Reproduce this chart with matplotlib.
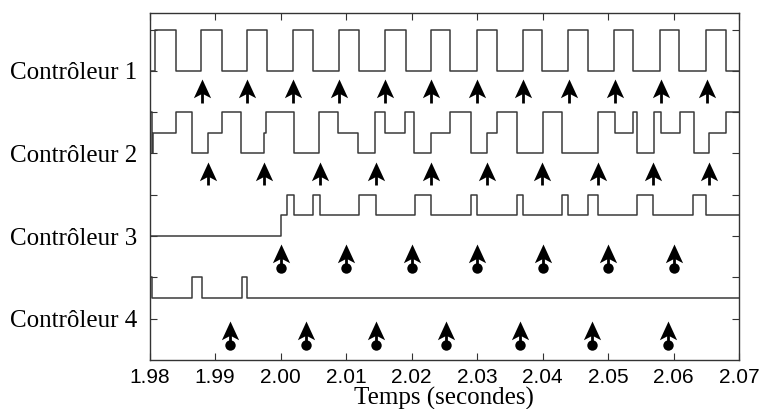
import numpy as np
import matplotlib
matplotlib.use('Agg')
from matplotlib import pyplot as plt
from matplotlib.path import Path

# signaux des contrôleurs : instants de changement (s) et niveau après changement
c1_t = [1.98, 1.98084, 1.98400, 1.98786, 1.99102, 1.99494, 1.99789, 2.00196, 2.00501,
        2.00893, 2.01198, 2.01595, 2.01911, 2.02298, 2.02588, 2.02995, 2.03301, 2.03698,
        2.03997, 2.04394, 2.04699, 2.05096, 2.05386, 2.05794, 2.06088, 2.06492, 2.06797, 2.07]
c1_y = [7, 8, 7, 8, 7, 8, 7, 8, 7, 8, 7, 8, 7, 8, 7, 8, 7, 8, 7, 8, 7, 8, 7, 8, 7, 8, 7, 7]

c2_t = [1.98, 1.9803, 1.9806, 1.98400, 1.98644, 1.98898, 1.99112, 1.99397, 1.99748, 1.99774,
        2.00211, 2.00592, 2.00882, 2.01188, 2.01443, 2.01595, 2.01901, 2.02043, 2.02293,
        2.02588, 2.02904, 2.03148, 2.03301, 2.03615, 2.04003, 2.04293, 2.04852, 2.05107,
        2.05386, 2.05447, 2.05702, 2.05804, 2.06099, 2.06313, 2.06547, 2.06802, 2.07]
c2_y = [6, 5, 5.5, 6, 5, 5.5, 6, 5, 5.5, 6,
        5, 6, 5.5, 5, 6, 5.5, 6, 5, 5.5,
        6, 5, 5.5, 6, 5, 6, 5, 6, 5.5,
        6, 5, 6, 5.5, 6, 5, 5.5, 6, 6]

c3_t = [1.98, 2.0, 2.00095, 2.00206, 2.00491, 2.00603, 2.01198, 2.01453, 2.02053, 2.02298,
        2.02904, 2.03005, 2.03606, 2.03698, 2.04293, 2.04394, 2.04699, 2.04852, 2.05447,
        2.05692, 2.06302, 2.06492, 2.07]
c3_y = [3, 3.5, 4, 3.5, 4, 3.5, 4, 3.5, 4, 3.5,
        4, 3.5, 4, 3.5, 4, 3.5, 4, 3.5, 4,
        3.5, 4, 3.5, 3.5]

c4_t = [1.98, 1.98043, 1.98644, 1.98797, 1.99408, 1.99494, 2.07]
c4_y = [2, 1.5, 2, 1.5, 2, 1.5, 1.5]

# flèches (instants) et leurs hauteurs (pointe, base)
c1_arrows = [1.98797, 1.99494, 2.00196, 2.00899, 2.01595, 2.02298, 2.03003, 2.03705,
             2.04408, 2.05107, 2.05804, 2.06514]
c2_arrows = [1.98898, 1.99748, 2.00603, 2.01453, 2.02298, 2.03148, 2.03997, 2.04852,
             2.05692, 2.06547]
c3_arrows = [2.00, 2.01, 2.02, 2.03, 2.04, 2.05, 2.06]
c4_arrows = [1.99224, 2.00385, 2.01458, 2.02527, 2.03656, 2.04751, 2.05911]

arrow_tip = [6.80, 4.80, 2.80, 0.95]
arrow_base = [6.22, 4.23, 2.22, 0.36]
arrow_dot = [False, False, True, True]

labels = ['Contrôleur 4', 'Contrôleur 3', 'Contrôleur 2', 'Contrôleur 1']
label_pos = [1, 3, 5, 7]
xticks = [1.98, 1.99, 2.00, 2.01, 2.02, 2.03, 2.04, 2.05, 2.06, 2.07]

# pointe de flèche avec l'arrière légèrement creusé, ancrée sur la pointe
head = Path([(0, 0), (-0.46, -1), (0, -0.76), (0.46, -1), (0, 0)],
            [Path.MOVETO, Path.LINETO, Path.LINETO, Path.LINETO, Path.CLOSEPOLY])

fig = plt.figure(figsize=(7.61, 4.09), dpi=100)
ax = fig.add_axes([0.1965, 0.1198, 0.7746, 0.8484])

line_col = '#3a3a3a'
for t, y in [(c1_t, c1_y), (c2_t, c2_y), (c3_t, c3_y), (c4_t, c4_y)]:
    ax.plot(t, y, drawstyle='steps-post', color=line_col, lw=1.1)

for i, xs in enumerate([c1_arrows, c2_arrows, c3_arrows, c4_arrows]):
    xs = np.array(xs)
    ax.vlines(xs, arrow_base[i], arrow_tip[i] - 0.2, color='k', lw=2.0)
    ax.plot(xs, np.full(len(xs), arrow_tip[i]), ls='none', marker=head,
            markersize=27, color='k', markeredgewidth=0)
    if arrow_dot[i]:
        ax.plot(xs, np.full(len(xs), arrow_base[i]), ls='none', marker='o',
                markersize=7.5, color='k', markeredgewidth=0)

ax.set_xlim(1.98, 2.07)
ax.set_ylim(0, 8.4)
ax.set_xticks(xticks)
ax.set_xticklabels(['%.2f' % v for v in xticks], fontfamily='Liberation Sans', fontsize=15)
ax.set_yticks([1, 2, 3, 4, 5, 6, 7, 8])
ax.set_yticklabels(['' if v not in label_pos else labels[label_pos.index(v)]
                    for v in range(1, 9)], fontfamily='Liberation Serif', fontsize=18)
ax.tick_params(direction='in', length=5, width=0.8, color='#333333',
               top=True, right=True)
ax.tick_params(axis='x', pad=6)
ax.tick_params(axis='y', pad=9)
for s in ax.spines.values():
    s.set_color('#333333')
    s.set_linewidth(1.0)

ax.set_xlabel('Temps (secondes)', fontfamily='Liberation Serif', fontsize=18, labelpad=0)

plt.savefig('out.png', dpi=100)
